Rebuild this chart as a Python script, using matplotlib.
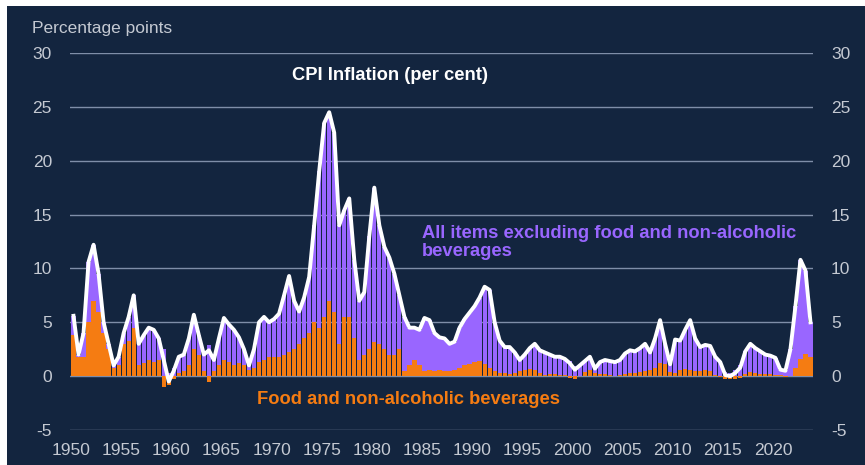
import matplotlib
matplotlib.use('Agg')
import matplotlib.pyplot as plt
from matplotlib.patches import Rectangle
import numpy as np

# half-yearly points, 1950 H1 .. 2023 H2
years = np.arange(1950, 2024)

# CPI inflation (per cent), two values per year
cpi = [
    5.6, 2.0,   4.0, 10.6,  12.2, 9.5,   5.0, 3.0,   1.0, 1.8,
    4.0, 5.5,   7.5, 3.0,   3.8, 4.5,   4.3, 3.5,   1.5, -0.5,
    0.5, 1.8,   2.0, 3.5,   5.7, 3.8,   2.0, 2.4,   1.5, 3.5,
    5.4, 4.8,   4.3, 3.6,   2.5, 1.0,   2.5, 5.0,   5.5, 5.0,
    5.3, 5.8,   7.5, 9.3,   7.0, 6.0,   7.3, 9.2,   14.0, 19.0,
    23.5, 24.5, 22.6, 14.0, 15.4, 16.5, 10.8, 7.0,  7.8, 13.0,
    17.5, 14.0, 12.0, 11.0, 9.5, 7.5,   5.5, 4.5,   4.5, 4.3,
    5.4, 5.2,   4.0, 3.6,   3.5, 3.0,   3.2, 4.5,   5.3, 5.9,
    6.5, 7.3,   8.3, 8.0,   5.0, 3.3,   2.7, 2.7,   2.2, 1.5,
    2.0, 2.6,   3.0, 2.4,   2.2, 2.0,   1.8, 1.8,   1.6, 1.2,
    0.6, 1.0,   1.4, 1.8,   0.7, 1.3,   1.5, 1.4,   1.3, 1.5,
    2.1, 2.4,   2.3, 2.6,   3.0, 2.2,   3.5, 5.2,   3.0, 1.1,
    3.4, 3.3,   4.3, 5.2,   3.5, 2.7,   2.9, 2.8,   1.8, 1.3,
    0.1, 0.0,   0.3, 0.8,   2.3, 3.0,   2.6, 2.3,   2.0, 1.9,
    1.7, 0.6,   0.5, 2.5,   6.5, 10.8,  9.8, 5.0,
]

# contribution of food and non-alcoholic beverages (percentage points)
food = [
    3.8, 1.8,   1.8, 5.0,   7.0, 6.0,   4.0, 2.5,   0.8, 1.0,
    3.0, 3.3,   4.5, 1.0,   1.2, 1.5,   1.3, 1.5,   -1.0, -0.8,
    -0.3, 0.3,  0.5, 1.0,   2.5, 2.0,   0.5, -0.5,  0.5, 1.0,
    1.5, 1.3,   1.0, 1.2,   1.0, 0.6,   0.8, 1.3,   1.5, 1.8,
    1.8, 1.8,   2.0, 2.2,   2.5, 3.0,   3.5, 4.0,   5.0, 4.5,
    5.5, 7.0,   6.0, 3.0,   5.5, 5.5,   3.5, 1.5,   2.0, 2.5,
    3.2, 3.0,   2.5, 2.0,   2.0, 2.5,   0.5, 1.0,   1.5, 1.0,
    0.5, 0.6,   0.5, 0.6,   0.5, 0.5,   0.6, 0.8,   1.0, 1.1,
    1.3, 1.4,   1.1, 0.8,   0.5, 0.3,   0.3, 0.2,   0.3, 0.5,
    0.6, 0.7,   0.6, 0.3,   0.1, 0.2,   0.2, 0.1,   0.1, -0.2,
    -0.3, 0.0,  0.4, 0.6,   0.3, 0.2,   0.2, 0.1,   0.0, 0.1,
    0.2, 0.3,   0.3, 0.4,   0.5, 0.6,   0.8, 1.2,   1.1, 0.4,
    0.3, 0.6,   0.7, 0.6,   0.5, 0.5,   0.6, 0.5,   0.1, -0.1,
    -0.3, -0.3, -0.3, -0.2, 0.2, 0.4,   0.3, 0.2,   0.2, 0.2,
    0.1, 0.1,   -0.1, 0.0,  0.8, 1.6,   2.1, 1.8,
]

x = np.repeat(years, 2) + np.tile([0.25, 0.75], len(years))
cpi = np.array(cpi)
food = np.array(food)
other = cpi - food
# stack on top of food only when both point the same way
other_bottom = np.where(np.sign(other) == np.sign(food), food, 0)

BG = '#13253f'
PURPLE = '#9966ff'
ORANGE = '#f57c12'
GRID = '#7f8ea8'
TXT = '#c4c9d2'

plt.rcParams['font.family'] = ['Liberation Sans', 'DejaVu Sans']
plt.rcParams['axes.unicode_minus'] = False

fig = plt.figure(figsize=(8.65, 4.65), dpi=100, facecolor='white')
fig.patches.append(Rectangle((7 / 865, 0), 1, 459 / 465, transform=fig.transFigure,
                             facecolor=BG, edgecolor='none', zorder=0))

ax = fig.add_axes([70 / 865, 35 / 465, 743 / 865, 377 / 465])
ax.set_facecolor('none')
ax.set_zorder(2)

ax.bar(x, food, width=0.42, color=ORANGE, zorder=2)
ax.bar(x, other, width=0.42, bottom=other_bottom, color=PURPLE, zorder=2)
ax.plot(x, cpi, color='white', linewidth=2.8, zorder=3, solid_joinstyle='round')

ax.set_xlim(1949.9, 2024.0)
ax.set_ylim(-5, 30)
ax.set_yticks(np.arange(-5, 31, 5))
ax.set_xticks(np.arange(1950, 2021, 5))
ax.grid(axis='y', color=GRID, linewidth=1.0, zorder=1)
ax.grid(axis='x', visible=False)
for s in ax.spines.values():
    s.set_visible(False)

ax.tick_params(axis='both', length=0, labelsize=12.5, labelcolor=TXT)
ax.tick_params(axis='y', pad=13, labelright=True, right=False)
ax.tick_params(axis='x', pad=9)

fig.text(32 / 865, 1 - 28 / 465, 'Percentage points', color=TXT, fontsize=12.5,
         va='center', ha='left', zorder=3)
ax.text(1972.0, 27.9, 'CPI Inflation (per cent)', color='white', fontsize=13.2,
        fontweight='bold', va='center', ha='left')
ax.text(1985.0, 12.4, 'All items excluding food and non-alcoholic\nbeverages',
        color=PURPLE, fontsize=13.2, fontweight='bold', va='center', ha='left',
        linespacing=1.1)
ax.text(1968.5, -2.2, 'Food and non-alcoholic beverages', color=ORANGE, fontsize=13.2,
        fontweight='bold', va='center', ha='left')

fig.savefig('out.png', dpi=100, facecolor=fig.get_facecolor())
